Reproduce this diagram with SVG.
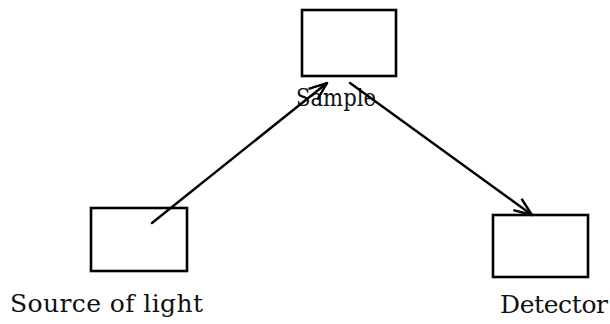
<svg xmlns="http://www.w3.org/2000/svg" width="610" height="324" viewBox="0 0 610 324">
<style>
.box{fill:none;stroke:#000;stroke-width:2.6}
.ln{fill:none;stroke:#000;stroke-width:2.4;stroke-linecap:round}
.t{font-family:"DejaVu Serif","Liberation Serif",serif;font-size:25px;fill:#111}
</style>
<defs>
<marker id="ah" viewBox="0 0 20 20" refX="19" refY="10" markerWidth="20" markerHeight="20" markerUnits="userSpaceOnUse" orient="auto">
<path d="M1,3 L19,10 L1,17" fill="none" stroke="#000" stroke-width="2.4" stroke-linejoin="miter"/>
</marker>
</defs>
<rect width="610" height="324" fill="#fff"/>
<g id="sample">
<rect class="box" x="302" y="10" width="94" height="66"/>
<text class="t" x="296" y="106" style="font-size:24px" textLength="80" lengthAdjust="spacingAndGlyphs">Sample</text>
</g>
<g id="source">
<rect class="box" x="91" y="208" width="96" height="63"/>
<text class="t" x="10" y="312" textLength="193">Source of light</text>
</g>
<g id="detector">
<rect class="box" x="493" y="215" width="95" height="62"/>
<text class="t" x="500" y="313" textLength="108">Detector</text>
</g>
<g id="connectors">
<line class="ln" x1="152" y1="223" x2="327" y2="83" marker-end="url(#ah)"/>
<line class="ln" x1="350" y1="83" x2="532" y2="215" marker-end="url(#ah)"/>
</g>
</svg>
